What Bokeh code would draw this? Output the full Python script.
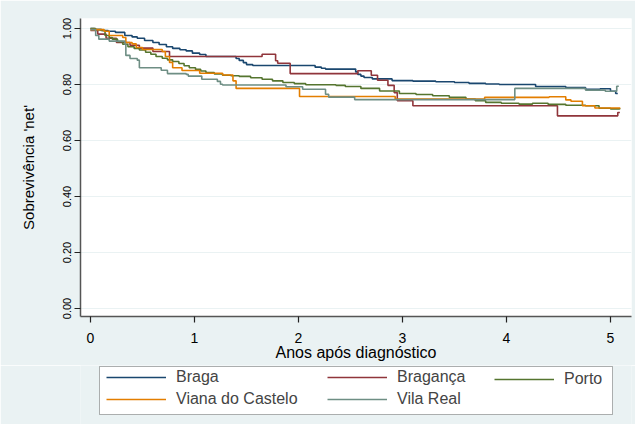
from bokeh.plotting import figure
from bokeh.layouts import column
from bokeh.models import Range1d, FixedTicker, NumeralTickFormatter, Legend, LegendItem, BoxAnnotation
from bokeh.embed import file_html
from bokeh.resources import INLINE

# ---- data ----
series_names = ["Braga", "Bragança", "Porto", "Viana do Castelo", "Vila Real"]
series_colors = ["#1a476f", "#90353b", "#55752f", "#e37e00", "#6e8e84"]

braga_t = [0, 0.04, 0.11, 0.17, 0.24, 0.33, 0.40, 0.45, 0.52, 0.60, 0.66, 0.73, 0.79, 0.86, 0.92, 0.98, 1.05, 1.11, 1.40, 1.43, 1.47, 1.50, 1.56, 2.16, 2.22, 2.26, 2.55, 2.57, 2.60, 2.63, 2.71, 2.90, 3.10, 3.32, 3.50, 3.64, 3.80, 3.93, 4.28, 4.57, 4.76, 4.90, 5.00, 5.05, 5.07]
braga_s = [1.0, 0.996, 0.993, 0.99, 0.986, 0.975, 0.97, 0.965, 0.957, 0.95, 0.943, 0.935, 0.929, 0.924, 0.92, 0.912, 0.907, 0.90, 0.893, 0.886, 0.878, 0.871, 0.868, 0.862, 0.858, 0.855, 0.845, 0.836, 0.83, 0.825, 0.82, 0.814, 0.812, 0.81, 0.807, 0.804, 0.802, 0.80, 0.793, 0.789, 0.783, 0.785, 0.776, 0.768, 0.768]

braganca_t = [0, 0.07, 0.15, 0.25, 0.38, 0.47, 0.60, 0.76, 1.65, 1.78, 1.80, 1.92, 2.57, 2.70, 2.76, 2.86, 2.92, 2.95, 3.10, 4.49, 5.07, 5.09]
braganca_s = [0.993, 0.98, 0.965, 0.95, 0.94, 0.93, 0.918, 0.90, 0.908, 0.885, 0.876, 0.839, 0.849, 0.833, 0.815, 0.797, 0.771, 0.742, 0.724, 0.688, 0.70, 0.70]

porto_t = [0, 0.05, 0.10, 0.14, 0.18, 0.21, 0.26, 0.31, 0.36, 0.42, 0.47, 0.53, 0.58, 0.63, 0.69, 0.74, 0.79, 0.85, 0.90, 0.95, 1.01, 1.06, 1.11, 1.19, 1.27, 1.35, 1.43, 1.54, 1.65, 1.75, 1.85, 1.96, 2.07, 2.36, 2.45, 2.60, 2.78, 2.97, 3.13, 3.29, 3.45, 3.61, 3.70, 3.80, 3.95, 4.12, 4.25, 4.40, 4.57, 4.76, 4.89, 5.00, 5.09]
porto_s = [1.0, 0.996, 0.993, 0.975, 0.968, 0.962, 0.953, 0.944, 0.935, 0.929, 0.923, 0.915, 0.908, 0.90, 0.894, 0.888, 0.882, 0.875, 0.867, 0.86, 0.854, 0.848, 0.843, 0.838, 0.833, 0.831, 0.829, 0.824, 0.819, 0.813, 0.807, 0.803, 0.799, 0.797, 0.793, 0.786, 0.777, 0.768, 0.764, 0.76, 0.754, 0.748, 0.742, 0.736, 0.733, 0.730, 0.733, 0.729, 0.726, 0.724, 0.715, 0.713, 0.712]

viana_t = [0, 0.13, 0.18, 0.31, 0.34, 0.40, 0.44, 0.50, 0.69, 0.72, 0.76, 0.79, 0.88, 1.05, 1.27, 1.37, 1.40, 2.01, 2.93, 3.79, 4.41, 4.57, 4.62, 4.73, 4.85, 5.09]
viana_s = [0.996, 0.99, 0.975, 0.968, 0.95, 0.945, 0.932, 0.925, 0.918, 0.90, 0.879, 0.86, 0.85, 0.84, 0.834, 0.813, 0.786, 0.757, 0.748, 0.754, 0.756, 0.745, 0.74, 0.724, 0.716, 0.714]

vilareal_t = [0, 0.05, 0.08, 0.18, 0.33, 0.34, 0.38, 0.45, 0.47, 0.68, 0.74, 0.92, 0.94, 1.05, 1.07, 1.22, 1.25, 1.27, 1.88, 2.04, 2.26, 2.29, 2.54, 4.08, 4.76, 4.95, 5.06, 5.08]
vilareal_s = [0.996, 0.975, 0.962, 0.955, 0.944, 0.904, 0.893, 0.887, 0.86, 0.851, 0.839, 0.836, 0.83, 0.83, 0.819, 0.811, 0.801, 0.798, 0.792, 0.783, 0.765, 0.755, 0.746, 0.786, 0.78, 0.776, 0.794, 0.794]

x_ticks = [0, 1, 2, 3, 4, 5]
y_ticks = [0.0, 0.2, 0.4, 0.6, 0.8, 1.0]
x_title = "Anos após diagnóstico"
y_title = "Sobrevivência 'net'"

all_t = [braga_t, braganca_t, porto_t, viana_t, vilareal_t]
all_s = [braga_s, braganca_s, porto_s, viana_s, vilareal_s]

# legend columns (Stata order: Braga/Viana | Bragança/Vila Real | Porto)
legend_columns = [[0, 3], [1, 4], [2]]

BG = "#eaf2f3"
FONT = "Liberation Sans"

# ---- main plot ----
p = figure(width=635, height=365, output_backend="svg", toolbar_location=None,
           x_range=Range1d(-0.096, 5.202), y_range=Range1d(-0.0286, 1.0357),
           min_border_left=80, min_border_top=18, min_border_right=4, min_border_bottom=49)
p.border_fill_color = BG
p.background_fill_color = "white"
p.outline_line_color = None

p.xgrid.visible = False
p.ygrid.grid_line_color = BG
p.ygrid.grid_line_width = 1.2
p.ygrid.ticker = FixedTicker(ticks=y_ticks)

for ax in (p.xaxis[0], p.yaxis[0]):
    ax.axis_line_color = "#555555"
    ax.axis_line_width = 1.5
    ax.major_tick_line_color = "#222222"
    ax.major_tick_line_width = 1.2
    ax.major_tick_in = 0
    ax.major_tick_out = 6
    ax.minor_tick_line_color = None
    ax.major_label_text_font = FONT
    ax.major_label_text_color = "black"
    ax.axis_label_text_font = FONT
    ax.axis_label_text_font_style = "normal"
    ax.axis_label_text_color = "black"

p.xaxis.ticker = FixedTicker(ticks=x_ticks)
p.yaxis.ticker = FixedTicker(ticks=y_ticks)
p.yaxis.formatter = NumeralTickFormatter(format="0.00")
p.yaxis.major_label_orientation = "parallel"
p.yaxis.major_label_text_font_size = "11px"
p.yaxis.major_label_standoff = 3
p.yaxis.axis_label_text_font_size = "15px"
p.yaxis.axis_label_standoff = 24
p.xaxis.major_label_text_font_size = "14px"
p.xaxis.major_label_standoff = 10
p.xaxis.axis_label_text_font_size = "16px"
p.xaxis.axis_label_standoff = -2
p.xaxis.axis_label = x_title
p.yaxis.axis_label = y_title

for name, color, t, s in zip(series_names, series_colors, all_t, all_s):
    p.step(t, s, mode="after", line_color=color, line_width=1.6)

# ---- legend panel ----
q = figure(width=635, height=59, output_backend="svg", toolbar_location=None,
           x_axis_type=None, y_axis_type=None,
           x_range=Range1d(20, 21), y_range=Range1d(20, 21),
           min_border_left=80, min_border_right=4, min_border_top=0, min_border_bottom=0)
q.border_fill_color = BG
q.background_fill_color = BG
q.outline_line_color = None
q.grid.visible = False

box = BoxAnnotation(left=99, right=612, top=1, bottom=49,
                    left_units="canvas", right_units="canvas",
                    top_units="canvas", bottom_units="canvas",
                    fill_color="white", fill_alpha=1.0,
                    line_color="black", line_width=1, level="underlay")
q.add_layout(box)

# key renderers carry the same series (outside this panel's visible range)
key_renderers = [q.step(t, s, mode="after", line_color=c, line_width=1.6)
                 for c, t, s in zip(series_colors, all_t, all_s)]

col_x = [26, 247, 414]
for cx, idxs in zip(col_x, legend_columns):
    n = len(idxs)
    leg = Legend(items=[LegendItem(label=series_names[i], renderers=[key_renderers[i]]) for i in idxs],
                 orientation="vertical", location=(cx, 16 + (2 - n) * 20),
                 padding=0, spacing=4, margin=0,
                 glyph_width=60, glyph_height=16, label_height=16, label_standoff=10,
                 label_text_font=FONT, label_text_font_size="16px",
                 border_line_color=None, background_fill_alpha=0.0)
    q.add_layout(leg)

layout = column(p, q, spacing=0)
open("out.html", "w").write(file_html(layout, INLINE))
